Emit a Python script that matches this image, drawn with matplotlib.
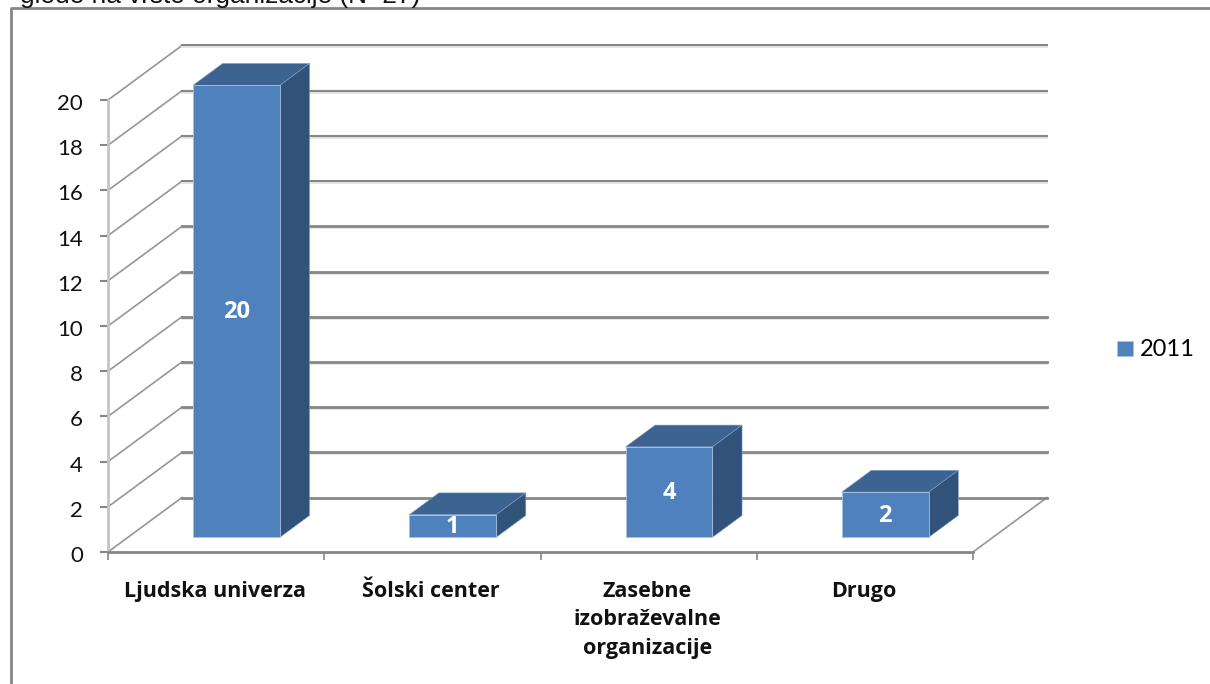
import numpy as np
import matplotlib
matplotlib.use('Agg')
import matplotlib.pyplot as plt
from matplotlib.patches import Polygon
from matplotlib.transforms import Affine2D

# data
categories = ['Ljudska univerza', 'Šolski center', 'Zasebne\nizobraževalne\norganizacije', 'Drugo']
values = [20, 1, 4, 2]
y_ticks = [0, 2, 4, 6, 8, 10, 12, 14, 16, 18, 20]
series_name = '2011'
title_text = 'glede na vrsto organizacije (N=27)'

W, H = 1210, 684
GRID = '#868686'
FRONT, TOP, SIDE = '#4F81BD', '#3D6391', '#325379'
EDGE = '#A9C1DE'

fig = plt.figure(figsize=(W / 100, H / 100), dpi=100)

# plot box in pixels, front plane of the 3D chart
left, right, bottom, top = 108, 973, 552, 100
ax = fig.add_axes([left / W, 1 - bottom / H, (right - left) / W, (bottom - top) / H])
ax.set_xlim(0, len(categories))
ax.set_ylim(0, 20)
ax.patch.set_visible(False)

# depth of the chart, converted to data units
dx = 74 / ((right - left) / len(categories))
dy = 54.5 / ((bottom - top) / 20)

# walls
shadow = ax.transData + Affine2D().translate(0, -2)
for y in y_ticks:
    ax.plot([0, dx], [y, y + dy], color='#969696', lw=1.2, clip_on=False, zorder=1)
    if y > 0:
        ax.plot([dx, len(categories) + dx], [y + dy, y + dy], color='#E2E2E2', lw=1.2,
                clip_on=False, zorder=1, transform=shadow)
    ax.plot([dx, len(categories) + dx], [y + dy, y + dy], color=GRID, lw=2 if y < 14 else 1.5,
            clip_on=False, zorder=1.1)
ax.plot([len(categories), len(categories) + dx], [0, dy], color='#969696', lw=1.2, clip_on=False, zorder=1)

# bars: front face through bar(), depth faces from the same values
x_pos = np.arange(len(categories)) + 0.5 + 0.275 * dx
bar_w = 0.402
base = 0.27 * dy
depth_x, depth_y = 0.4 * dx, 0.4 * dy
ax.bar(x_pos, values, width=bar_w, bottom=base, color=FRONT, edgecolor=EDGE, linewidth=0.6,
       clip_on=False, zorder=3, label=series_name)
for x, v in zip(x_pos, values):
    x0, x1 = x - bar_w / 2, x + bar_w / 2
    y0, y1 = base, base + v
    ax.add_patch(Polygon([(x0, y1), (x1, y1), (x1 + depth_x, y1 + depth_y), (x0 + depth_x, y1 + depth_y)],
                         facecolor=TOP, edgecolor='#7F9FC8', lw=0.4, clip_on=False, zorder=2.5))
    ax.add_patch(Polygon([(x1, y0), (x1 + depth_x, y0 + depth_y), (x1 + depth_x, y1 + depth_y), (x1, y1)],
                         facecolor=SIDE, edgecolor='#7F9FC8', lw=0.4, clip_on=False, zorder=2.5))
    ax.text(x, base + v / 2 - 0.05, str(v), color='white', fontsize=17, fontweight='bold', family='Open Sans',
            ha='center', va='center', zorder=4, clip_on=False)

# axes
for s in ['top', 'right']:
    ax.spines[s].set_visible(False)
ax.spines['left'].set_color('#C4C4C4')
ax.spines['left'].set_linewidth(2)
ax.spines['bottom'].set_color(GRID)
ax.spines['bottom'].set_linewidth(2)
ax.set_yticks(y_ticks)
ax.set_yticklabels([str(y) for y in y_ticks], fontsize=16, family='Lato', color='#111111')
ax.tick_params(axis='y', length=6, width=1.5, color=GRID, pad=12)
for lab in ax.get_yticklabels():
    lab.set_transform(lab.get_transform() + Affine2D().translate(0, -2))
ax.set_xticks(np.arange(len(categories) + 1))
ax.set_xticklabels([])
ax.tick_params(axis='x', length=6, width=1.2, color=GRID)
for i, c in enumerate(categories):
    ax.annotate(c, (i + 0.5, 0), xytext=(-1, -21), textcoords='offset points', ha='center', va='top',
                fontsize=15.5, fontweight='bold', family='Open Sans', color='#111111', linespacing=1.45,
                annotation_clip=False)

# legend
fig.legend(*ax.get_legend_handles_labels(), loc='center left', bbox_to_anchor=(1096 / W, 1 - 350 / H),
           frameon=False, prop={'family': 'Lato', 'size': 17}, handlelength=0.68,
           handleheight=0.6, handletextpad=0.28)

# page frame and the caption cut off above it
fig.add_artist(plt.Line2D([11 / W, 11 / W, 1], [0, 1 - 8 / H, 1 - 8 / H], color=GRID, lw=2))
fig.text(20 / W, 1 - 3 / H, title_text, fontsize=18.9, family='Liberation Sans', color='#111111',
         ha='left', va='baseline')

fig.savefig('out.png', dpi=100)
